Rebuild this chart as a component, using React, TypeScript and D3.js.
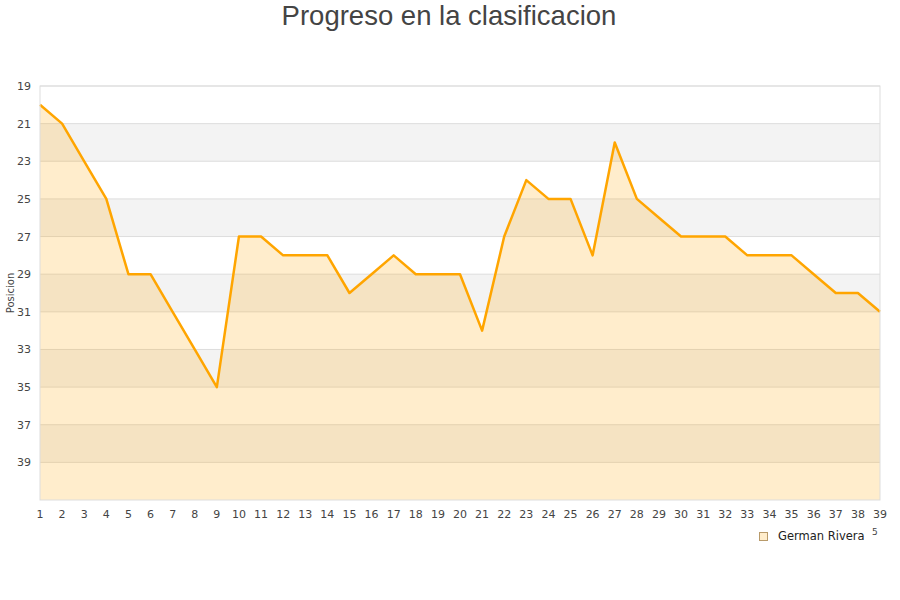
import * as React from 'react'
import * as d3 from 'd3'

const width = 900
const height = 600
const margin = { top: 86, right: 20, bottom: 100, left: 40 }
const orange = '#ffa500'

const rounds = d3.range(1, 40)
const positions = [
  20, 21, 23, 25, 29, 29, 31, 33, 35, 27, 27, 28, 28, 28, 30, 29, 28, 29, 29, 29,
  32, 27, 24, 25, 25, 28, 22, 25, 26, 27, 27, 27, 28, 28, 28, 29, 30, 30, 31,
]
const yTicks = [19, 21, 23, 25, 27, 29, 31, 33, 35, 37, 39]
const playerName = 'German Rivera'

const App = () => {
  const data = rounds.map((r, i) => ({ round: r, pos: positions[i] }))

  const xScale = d3
    .scaleLinear()
    .domain([1, 39])
    .range([margin.left, width - margin.right])
  const yScale = d3
    .scaleLinear()
    .domain([19, 41])
    .range([margin.top, height - margin.bottom])

  const area = d3
    .area<any>()
    .x(d => xScale(d.round))
    .y0(yScale(41))
    .y1(d => yScale(d.pos))
  const line = d3
    .line<any>()
    .x(d => xScale(d.round))
    .y(d => yScale(d.pos))

  const x0 = margin.left
  const x1 = width - margin.right
  const font = 'DejaVu Sans, sans-serif'

  return (
    <svg width={width} height={height} style={{ position: 'absolute', left: 0, top: 0 }}>
      <rect width={width} height={height} fill="#fff" />
      <text
        x={449}
        y={25}
        textAnchor="middle"
        fontFamily="Liberation Sans, Arial, sans-serif"
        fontSize={27.5}
        fill="#444"
      >
        Progreso en la clasificacion
      </text>

      {/* alternating bands */}
      {d3.range(19, 41, 2).map((v, i) => (
        <rect
          key={v}
          x={x0}
          y={yScale(v)}
          width={x1 - x0}
          height={yScale(v + 2) - yScale(v)}
          fill={i % 2 === 1 ? '#f3f3f3' : '#fff'}
        />
      ))}
      {yTicks.map(t => (
        <line key={t} x1={x0} x2={x1} y1={yScale(t)} y2={yScale(t)} stroke="#ddd" strokeWidth={1} />
      ))}

      <path d={area(data) as string} fill={orange} fillOpacity={0.2} />
      <path d={line(data) as string} fill="none" stroke={orange} strokeWidth={2.5} strokeLinejoin="round" />

      <rect
        x={x0}
        y={margin.top}
        width={x1 - x0}
        height={yScale(41) - margin.top}
        fill="none"
        stroke="#ddd"
      />

      {yTicks.map(t => (
        <text
          key={t}
          x={31}
          y={yScale(t) + 4}
          textAnchor="end"
          fontFamily={font}
          fontSize={11}
          fill="#444"
        >
          {t}
        </text>
      ))}
      {rounds.map(r => (
        <text
          key={r}
          x={xScale(r)}
          y={518}
          textAnchor="middle"
          fontFamily={font}
          fontSize={11}
          fill="#444"
        >
          {r}
        </text>
      ))}

      <text
        transform={`translate(14, ${yScale(30)}) rotate(-90)`}
        textAnchor="middle"
        fontFamily={font}
        fontSize={10}
        fill="#444"
      >
        Posicion
      </text>

      <rect x={759.5} y={532.5} width={8} height={8} fill="#ffedcc" stroke="#b89a6a" />
      <text x={778} y={540} fontFamily={font} fontSize={11.5} fill="#222">
        {playerName}
      </text>
      <text x={872} y={535} fontFamily={font} fontSize={9} fill="#444">
        5
      </text>
    </svg>
  )
}

export default App
